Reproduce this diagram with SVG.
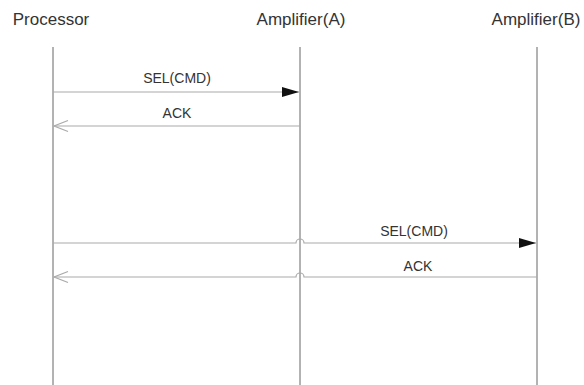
<svg xmlns="http://www.w3.org/2000/svg" width="584" height="385" viewBox="0 0 584 385">
<style>
text{font-family:"Liberation Sans",Arial,sans-serif;fill:#333;text-anchor:middle}
.title{font-size:17px}
.lbl{font-size:14px}
.life{stroke:#666;stroke-width:1;fill:none}
.msg{stroke:#aaa;stroke-width:1.2;fill:none}
</style>
<defs>
<marker id="fill" markerWidth="17" markerHeight="11" refX="17" refY="5.5" orient="auto" markerUnits="userSpaceOnUse">
<path d="M0,0.5 L17,5.5 L0,10.5 Z" fill="#111"/>
</marker>
<marker id="open" markerWidth="16" markerHeight="14" refX="15" refY="7" orient="auto" markerUnits="userSpaceOnUse">
<path d="M1,1.5 L15,7 L1,12.5" fill="none" stroke="#aaa" stroke-width="1.2"/>
</marker>
</defs>
<rect width="584" height="385" fill="#fff"/>
<g id="processor">
<text class="title" x="51" y="25">Processor</text>
<line class="life" x1="53" y1="47" x2="53" y2="385"/>
</g>
<g id="amplifierA">
<text class="title" x="301" y="25">Amplifier(A)</text>
<line class="life" x1="300" y1="47" x2="300" y2="385"/>
</g>
<g id="amplifierB">
<text class="title" x="536" y="25">Amplifier(B)</text>
<line class="life" x1="537" y1="47" x2="537" y2="385"/>
</g>
<g id="connectors">
<line class="msg" x1="53" y1="92" x2="299" y2="92" marker-end="url(#fill)"/>
<text class="lbl" x="177" y="83">SEL(CMD)</text>
<line class="msg" x1="300" y1="126" x2="54" y2="126" marker-end="url(#open)"/>
<text class="lbl" x="177" y="118">ACK</text>
<path class="msg" d="M53,243 H296 A4,4 0 0 1 304,243 H536" marker-end="url(#fill)"/>
<text class="lbl" x="414" y="236">SEL(CMD)</text>
<path class="msg" d="M537,277 H304 A4,4 0 0 0 296,277 H54" marker-end="url(#open)"/>
<text class="lbl" x="418" y="271">ACK</text>
</g>
</svg>
